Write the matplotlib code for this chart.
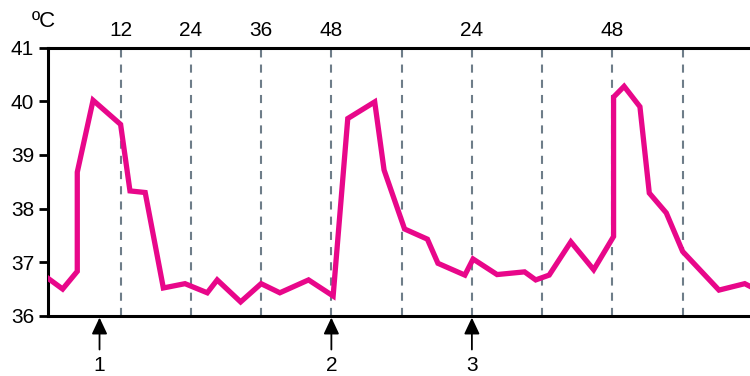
import matplotlib
matplotlib.use("Agg")
from matplotlib import pyplot as plt

plt.rcParams['font.family'] = ['Liberation Sans', 'DejaVu Sans']

# time in hours, body temperature in degrees C
hours = [-0.4, 2.1, 4.6, 4.6, 7.3, 12.0, 13.6, 16.2, 19.3, 23.0, 26.8, 28.5, 32.5,
         36.0, 39.2, 44.1, 48.3, 50.8, 55.4, 57.0, 60.5, 64.4, 66.2, 70.8, 72.2,
         76.3, 81.0, 82.9, 85.2, 88.9, 92.8, 96.2, 96.2, 98.0, 100.7, 102.3,
         105.2, 108.0, 114.2, 118.6, 119.5]
temps = [36.7, 36.5, 36.83, 38.68, 40.02, 39.57, 38.33, 38.3, 36.52, 36.6, 36.43,
         36.67, 36.26, 36.6, 36.43, 36.67, 36.37, 39.68, 39.99, 38.72, 37.62,
         37.43, 36.98, 36.76, 37.06, 36.77, 36.82, 36.67, 36.76, 37.38, 36.86,
         37.48, 40.08, 40.28, 39.9, 38.29, 37.92, 37.2, 36.48, 36.6, 36.55]

grid_hours = [12, 24, 36, 48, 60, 72, 84, 96, 108]
top_labels = ['12', '24', '36', '48', '', '24', '', '48', '']
arrow_hours = [8.4, 48, 72]
arrow_labels = ['1', '2', '3']

fig = plt.figure(figsize=(7.5, 3.76), dpi=100)
ax = fig.add_axes([0.064, 0.16, 0.936, 0.713])

for h in grid_hours:
    ax.axvline(h, color="#6e7d89", linewidth=1.5, dashes=(3.9, 3.4), zorder=1)

ax.plot(hours, temps, color="#e8078a", linewidth=3.8, solid_joinstyle="miter", zorder=3)

ax.set_xlim(-0.4, 119.5)
ax.set_ylim(36, 41)

ax.set_yticks([36, 37, 38, 39, 40, 41])
ax.tick_params(axis="y", length=6.5, width=2, labelsize=15, pad=3.5)
ax.xaxis.tick_top()
ax.set_xticks(grid_hours)
ax.set_xticklabels(top_labels)
ax.tick_params(axis="x", length=0, labelsize=15, pad=5.5)

for side in ["left", "top", "bottom"]:
    ax.spines[side].set_linewidth(2.2)
ax.spines["right"].set_visible(False)

ax.text(-0.023, 1.077, "ºC", transform=ax.transAxes, fontsize=16, ha="left", va="baseline")

for h, lab in zip(arrow_hours, arrow_labels):
    ax.annotate("", xy=(h, 36.02), xytext=(h, 35.32), annotation_clip=False,
                arrowprops=dict(arrowstyle="-|>,head_length=1.0,head_width=0.47",
                                color="black", linewidth=1.3))
    ax.text(h, 35.07, lab, ha="center", va="center", fontsize=15, clip_on=False)

fig.savefig("out.png", dpi=100)
